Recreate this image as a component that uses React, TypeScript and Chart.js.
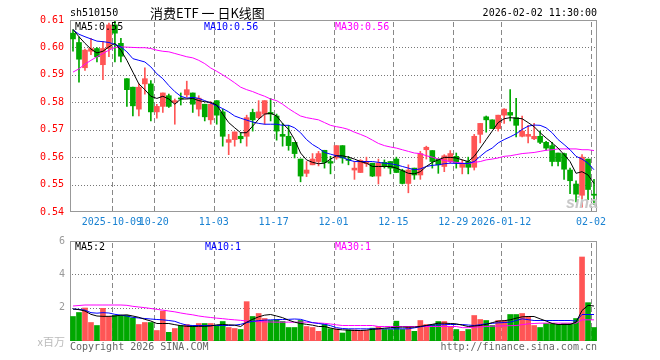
import React, { useEffect, useRef } from "react";
import { Chart, registerables } from "chart.js";
Chart.register(...registerables);

// ---------- DATA ----------
const dates = [
  "2025-09-22","2025-09-23","2025-09-24","2025-09-25","2025-09-26","2025-09-29","2025-09-30",
  "2025-10-09","2025-10-10","2025-10-13","2025-10-14","2025-10-15","2025-10-16","2025-10-17","2025-10-20","2025-10-21","2025-10-22","2025-10-23","2025-10-24","2025-10-27","2025-10-28","2025-10-29","2025-10-30","2025-10-31",
  "2025-11-03","2025-11-04","2025-11-05","2025-11-06","2025-11-07","2025-11-10","2025-11-11","2025-11-12","2025-11-13","2025-11-14","2025-11-17","2025-11-18","2025-11-19","2025-11-20","2025-11-21","2025-11-24","2025-11-25","2025-11-26","2025-11-27","2025-11-28",
  "2025-12-01","2025-12-02","2025-12-03","2025-12-04","2025-12-05","2025-12-08","2025-12-09","2025-12-10","2025-12-11","2025-12-12","2025-12-15","2025-12-16","2025-12-17","2025-12-18","2025-12-19","2025-12-22","2025-12-23","2025-12-24","2025-12-25","2025-12-26","2025-12-29","2025-12-30","2025-12-31",
  "2026-01-05","2026-01-06","2026-01-07","2026-01-08","2026-01-09","2026-01-12","2026-01-13","2026-01-14","2026-01-15","2026-01-16","2026-01-19","2026-01-20","2026-01-21","2026-01-22","2026-01-23","2026-01-26","2026-01-27","2026-01-28","2026-01-29","2026-01-30",
  "2026-02-02",
];

const axisDates = ["2025-10-09","2025-10-20","2025-11-03","2025-11-17","2025-12-01","2025-12-15","2025-12-29","2026-01-12","2026-02-02"];
const axisLabels = ["2025-10-09","10-20","11-03","11-17","12-01","12-15","12-29","2026-01-12","02-02"];

const openP = [0.6052,0.6018,0.5926,0.5986,0.5996,0.5937,0.5996,0.6082,0.6015,0.5886,0.5855,0.5775,0.5867,0.5867,0.5765,0.5785,0.5824,0.5800,0.5815,0.5827,0.5834,0.5775,0.5793,0.5736,0.5806,0.5765,0.5654,0.5664,0.5676,0.5676,0.5763,0.5744,0.5757,0.5763,0.5750,0.5683,0.5676,0.5654,0.5593,0.5541,0.5572,0.5584,0.5625,0.5584,0.5597,0.5642,0.5593,0.5553,0.5544,0.5576,0.5578,0.5531,0.5581,0.5584,0.5593,0.5551,0.5504,0.5560,0.5535,0.5627,0.5624,0.5593,0.5566,0.5584,0.5603,0.5563,0.5584,0.5563,0.5683,0.5747,0.5736,0.5704,0.5753,0.5763,0.5744,0.5676,0.5676,0.5667,0.5676,0.5654,0.5642,0.5615,0.5613,0.5553,0.5502,0.5461,0.5593,0.5465];
const highP = [0.6064,0.6039,0.5994,0.6033,0.5999,0.6021,0.6089,0.6095,0.6033,0.5886,0.5855,0.5867,0.5926,0.5879,0.5793,0.5834,0.5830,0.5812,0.5834,0.5877,0.5834,0.5824,0.5793,0.5802,0.5806,0.5775,0.5683,0.5692,0.5689,0.5753,0.5775,0.5806,0.5806,0.5814,0.5757,0.5723,0.5716,0.5654,0.5593,0.5584,0.5613,0.5621,0.5625,0.5603,0.5642,0.5642,0.5603,0.5584,0.5591,0.5600,0.5578,0.5593,0.5590,0.5584,0.5600,0.5556,0.5572,0.5560,0.5621,0.5640,0.5624,0.5593,0.5609,0.5624,0.5615,0.5590,0.5600,0.5683,0.5723,0.5750,0.5736,0.5753,0.5777,0.5846,0.5814,0.5750,0.5716,0.5723,0.5695,0.5658,0.5654,0.5615,0.5615,0.5560,0.5514,0.5609,0.5593,0.5519];
const lowP = [0.5986,0.5873,0.5916,0.5974,0.5947,0.5882,0.5966,0.5947,0.5947,0.5785,0.5750,0.5750,0.5830,0.5732,0.5742,0.5763,0.5781,0.5720,0.5790,0.5818,0.5763,0.5750,0.5732,0.5720,0.5720,0.5640,0.5609,0.5640,0.5652,0.5640,0.5695,0.5740,0.5720,0.5732,0.5662,0.5640,0.5625,0.5597,0.5510,0.5529,0.5572,0.5568,0.5560,0.5539,0.5592,0.5578,0.5572,0.5519,0.5544,0.5566,0.5529,0.5502,0.5560,0.5539,0.5544,0.5502,0.5470,0.5519,0.5519,0.5593,0.5560,0.5541,0.5547,0.5578,0.5560,0.5539,0.5539,0.5553,0.5652,0.5691,0.5704,0.5695,0.5723,0.5732,0.5674,0.5674,0.5652,0.5664,0.5649,0.5625,0.5568,0.5568,0.5519,0.5467,0.5437,0.5418,0.5445,0.5428];
const closeP = [0.6031,0.5957,0.5990,0.5996,0.5966,0.5996,0.6082,0.6052,0.5968,0.5846,0.5787,0.5855,0.5886,0.5765,0.5785,0.5834,0.5785,0.5806,0.5812,0.5846,0.5793,0.5815,0.5747,0.5793,0.5753,0.5676,0.5664,0.5692,0.5667,0.5744,0.5736,0.5765,0.5806,0.5757,0.5695,0.5676,0.5642,0.5613,0.5531,0.5553,0.5593,0.5613,0.5581,0.5578,0.5642,0.5597,0.5588,0.5560,0.5588,0.5584,0.5531,0.5578,0.5566,0.5560,0.5544,0.5504,0.5553,0.5535,0.5613,0.5636,0.5584,0.5572,0.5605,0.5613,0.5581,0.5576,0.5563,0.5676,0.5723,0.5736,0.5704,0.5753,0.5775,0.5753,0.5716,0.5695,0.5683,0.5676,0.5654,0.5633,0.5584,0.5584,0.5556,0.5514,0.5465,0.5600,0.5482,0.5461];

const ma5 = [0.6066,0.6039,0.6015,0.5994,0.5980,0.5986,0.6002,0.6015,0.5990,0.5953,0.5910,0.5867,0.5846,0.5822,0.5814,0.5822,0.5812,0.5793,0.5812,0.5812,0.5814,0.5806,0.5802,0.5800,0.5790,0.5757,0.5726,0.5707,0.5689,0.5689,0.5713,0.5738,0.5757,0.5760,0.5750,0.5723,0.5701,0.5664,0.5615,0.5590,0.5581,0.5576,0.5578,0.5593,0.5605,0.5605,0.5600,0.5593,0.5584,0.5578,0.5566,0.5566,0.5566,0.5566,0.5560,0.5551,0.5541,0.5539,0.5547,0.5566,0.5581,0.5590,0.5599,0.5599,0.5597,0.5590,0.5584,0.5603,0.5633,0.5664,0.5695,0.5726,0.5740,0.5744,0.5742,0.5740,0.5726,0.5711,0.5689,0.5670,0.5652,0.5633,0.5609,0.5584,0.5541,0.5547,0.5535,0.5504];
const ma10 = [0.6064,0.6048,0.6039,0.6031,0.6023,0.6021,0.6018,0.6011,0.6002,0.5984,0.5959,0.5953,0.5947,0.5929,0.5904,0.5886,0.5861,0.5839,0.5822,0.5815,0.5818,0.5814,0.5806,0.5797,0.5787,0.5777,0.5765,0.5750,0.5742,0.5735,0.5728,0.5723,0.5720,0.5720,0.5720,0.5716,0.5716,0.5707,0.5689,0.5664,0.5646,0.5633,0.5617,0.5611,0.5605,0.5599,0.5590,0.5584,0.5584,0.5584,0.5584,0.5581,0.5578,0.5576,0.5572,0.5566,0.5560,0.5554,0.5557,0.5566,0.5570,0.5572,0.5576,0.5578,0.5577,0.5577,0.5577,0.5584,0.5603,0.5621,0.5633,0.5652,0.5664,0.5674,0.5685,0.5701,0.5713,0.5717,0.5716,0.5707,0.5689,0.5664,0.5646,0.5627,0.5603,0.5593,0.5578,0.5554];
const ma30 = [0.5910,0.5922,0.5939,0.5953,0.5966,0.5978,0.5990,0.6000,0.6002,0.6001,0.6000,0.5999,0.5999,0.5996,0.5990,0.5986,0.5984,0.5978,0.5972,0.5966,0.5962,0.5953,0.5941,0.5925,0.5913,0.5900,0.5886,0.5871,0.5855,0.5846,0.5839,0.5830,0.5822,0.5812,0.5806,0.5793,0.5777,0.5763,0.5750,0.5744,0.5740,0.5736,0.5726,0.5716,0.5711,0.5707,0.5701,0.5691,0.5683,0.5674,0.5662,0.5650,0.5642,0.5637,0.5633,0.5627,0.5621,0.5615,0.5613,0.5605,0.5600,0.5593,0.5588,0.5584,0.5581,0.5578,0.5576,0.5581,0.5584,0.5590,0.5593,0.5597,0.5603,0.5605,0.5609,0.5613,0.5615,0.5617,0.5621,0.5625,0.5627,0.5630,0.5630,0.5630,0.5630,0.5627,0.5627,0.5624];

// volume in millions
const volume = [1.47,1.71,1.98,1.11,0.93,1.96,1.47,1.53,1.53,1.53,1.39,0.99,1.11,1.11,0.63,1.79,0.52,0.75,0.93,0.99,0.93,1.05,1.05,1.05,0.93,1.17,0.81,0.75,0.69,2.36,1.47,1.65,1.35,1.23,1.29,1.17,0.81,0.81,1.23,0.87,0.81,0.58,0.99,0.74,0.73,0.48,0.67,0.67,0.63,0.63,0.77,0.87,0.69,0.69,1.19,0.69,0.87,0.58,1.23,0.99,0.99,1.17,1.17,0.87,0.69,0.58,0.69,1.53,1.29,1.23,0.93,1.23,1.23,1.59,1.59,1.65,1.47,0.93,0.81,1.05,1.05,0.99,1.05,1.05,1.35,5.04,2.30,0.81];
const volMa5 = [1.92,1.88,1.8,1.6,1.5,1.48,1.48,1.5,1.55,1.57,1.5,1.42,1.3,1.2,1.05,1.05,1.05,0.98,0.92,0.88,0.87,0.88,0.88,0.9,0.97,0.99,0.97,0.95,0.87,1.13,1.3,1.45,1.55,1.59,1.5,1.4,1.25,1.13,1.05,1.0,0.95,0.87,0.87,0.78,0.7,0.67,0.65,0.63,0.63,0.65,0.7,0.73,0.77,0.8,0.83,0.83,0.83,0.83,0.88,0.93,1.0,1.07,1.07,1.05,1.03,0.95,0.87,0.9,0.93,1.0,1.1,1.19,1.22,1.27,1.37,1.45,1.47,1.47,1.33,1.2,1.05,0.99,0.99,0.99,1.13,1.83,2.14,2.1];
const volMa10 = [1.92,1.9,1.85,1.7,1.67,1.7,1.68,1.6,1.55,1.5,1.42,1.38,1.35,1.32,1.29,1.27,1.23,1.18,1.05,0.95,0.93,0.93,0.93,0.93,0.93,0.93,0.93,0.95,1.0,1.1,1.18,1.22,1.25,1.27,1.28,1.29,1.3,1.32,1.3,1.2,1.1,1.05,1.0,0.92,0.8,0.75,0.73,0.73,0.73,0.73,0.73,0.73,0.73,0.73,0.73,0.73,0.73,0.79,0.85,0.93,0.95,0.97,0.98,0.99,0.99,0.99,0.96,0.93,0.98,1.03,1.06,1.09,1.11,1.13,1.23,1.33,1.28,1.23,1.23,1.23,1.23,1.23,1.23,1.23,1.2,1.59,1.59,1.59];
const volMa30 = [2.1,2.13,2.16,2.16,2.16,2.16,2.16,2.16,2.16,2.14,2.08,2.04,2.0,1.95,1.9,1.85,1.8,1.75,1.68,1.62,1.57,1.5,1.45,1.41,1.37,1.34,1.3,1.27,1.24,1.2,1.18,1.16,1.15,1.14,1.13,1.13,1.13,1.13,1.13,1.13,1.1,1.08,1.06,1.02,0.97,0.93,0.93,0.93,0.93,0.93,0.93,0.87,0.87,0.87,0.87,0.87,0.87,0.87,0.87,0.87,0.87,0.87,0.87,0.87,0.87,0.8,0.8,0.83,0.85,0.87,0.89,0.9,0.91,0.92,0.93,0.98,1.03,1.05,1.07,1.07,1.07,1.07,1.07,1.07,1.07,1.27,1.27,1.27];

const priceTicks = [0.54, 0.55, 0.56, 0.57, 0.58, 0.59, 0.60, 0.61];
const volTicks = [0, 2, 4, 6];

// ---------- STYLE ----------
const UP = "#ff5555";
const DOWN = "#00a800";
const MONO = '"DejaVu Sans Mono", "Liberation Mono", monospace';
const CJK = '"Noto Sans CJK SC", sans-serif';
const HGRID = "#777777";
const VGRID = "#888888";

const labelIndex: Record<number, string> = {};
axisDates.forEach((d, k) => { labelIndex[dates.indexOf(d)] = axisLabels[k]; });
const gridIdx = Object.keys(labelIndex).map(Number);

const candleColors = dates.map((_, i) => (closeP[i] >= openP[i] ? UP : DOWN));

const gridPlugin = {
  id: "sinaGrid",
  beforeDatasetsDraw(chart: any) {
    const ctx = chart.ctx;
    const a = chart.chartArea;
    const xs = chart.scales.x;
    const ys = chart.scales.y;
    const L = Math.round(a.left), R = Math.round(a.right), T = Math.round(a.top), B = Math.round(a.bottom);
    ctx.save();
    ctx.fillStyle = HGRID;
    const yTicks: number[] = ys.ticks.map((t: any) => t.value);
    yTicks.forEach((v) => {
      const y = Math.round(ys.getPixelForValue(v));
      if (y > T + 1 && y < B - 1) {
        for (let x = L + 2; x < R - 1; x += 3) ctx.fillRect(x, y, 1, 1);
      }
    });
    ctx.fillStyle = VGRID;
    const slot = (R - L) / dates.length;
    gridIdx.forEach((i) => {
      const x = Math.round(xs.getPixelForValue(i) - slot / 2);
      for (let y = T + 2; y < B - 1; y += 8) ctx.fillRect(x, y, 1, Math.min(5, B - 1 - y));
    });
    ctx.fillStyle = "#999999";
    ctx.fillRect(L, T, R - L, 1);
    ctx.fillRect(L, B - 1, R - L, 1);
    ctx.fillRect(L, T, 1, B - T);
    ctx.fillRect(R - 1, T, 1, B - T);
    ctx.restore();
  },
};

function lineDs(data: number[], color: string) {
  return { type: "line", data, borderColor: color, borderWidth: 1, pointRadius: 0, tension: 0, order: 0 };
}

function priceConfig(): any {
  return {
    type: "bar",
    data: {
      labels: dates,
      datasets: [
        lineDs(ma5, "#000000"),
        lineDs(ma10, "#0000ff"),
        lineDs(ma30, "#ff00ff"),
        { type: "bar", data: dates.map((_, i) => [lowP[i], highP[i]]), backgroundColor: candleColors, barThickness: 1, grouped: false, order: 2 },
        { type: "bar", data: dates.map((_, i) => [openP[i], closeP[i]]), backgroundColor: candleColors, barThickness: 5, minBarLength: 1, grouped: false, order: 1 },
      ],
    },
    options: {
      animation: false,
      responsive: false,
      devicePixelRatio: 1,
      layout: { padding: { left: 0, right: 63, top: 20, bottom: 0 } },
      plugins: { legend: { display: false }, tooltip: { enabled: false } },
      scales: {
        x: {
          type: "category",
          offset: true,
          grid: { display: false, drawTicks: false },
          border: { display: false },
          ticks: {
            autoSkip: false, maxRotation: 0, minRotation: 0, padding: 4, labelOffset: -3,
            color: "#1a82d2", font: { family: MONO, size: 10 },
            callback: (_v: any, i: number) => labelIndex[i] ?? "",
          },
          afterFit: (s: any) => { s.height = 23; },
        },
        y: {
          min: priceTicks[0], max: priceTicks[priceTicks.length - 1],
          afterBuildTicks: (s: any) => { s.ticks = priceTicks.map((v) => ({ value: v })); },
          grid: { display: false, drawTicks: false },
          border: { display: false },
          ticks: { color: "#ff0000", padding: 6, font: { family: MONO, size: 10 }, callback: (v: number) => v.toFixed(2) },
          afterFit: (s: any) => { s.width = 70; },
        },
      },
    },
    plugins: [gridPlugin],
  };
}

function volConfig(): any {
  return {
    type: "bar",
    data: {
      labels: dates,
      datasets: [
        lineDs(volMa5, "#000000"),
        lineDs(volMa10, "#0000ff"),
        lineDs(volMa30, "#ff00ff"),
        { type: "bar", data: volume, backgroundColor: candleColors, barThickness: 5, grouped: false, order: 1 },
      ],
    },
    options: {
      animation: false,
      responsive: false,
      devicePixelRatio: 1,
      layout: { padding: { left: 0, right: 63, top: 10, bottom: 19 } },
      plugins: { legend: { display: false }, tooltip: { enabled: false } },
      scales: {
        x: {
          type: "category",
          offset: true,
          grid: { display: false, drawTicks: false },
          border: { display: false },
          ticks: { display: false, autoSkip: false },
          afterFit: (s: any) => { s.height = 0; },
        },
        y: {
          min: volTicks[0], max: volTicks[volTicks.length - 1],
          afterBuildTicks: (s: any) => { s.ticks = volTicks.map((v) => ({ value: v })); },
          grid: { display: false, drawTicks: false },
          border: { display: false },
          ticks: { color: "#999999", padding: 5, font: { family: MONO, size: 10 }, callback: (v: number) => (v === 0 ? "" : String(v)) },
          afterFit: (s: any) => { s.width = 70; },
        },
      },
    },
    plugins: [gridPlugin],
  };
}

function Txt(props: { x: number; y: number; align?: "left" | "right"; color?: string; size?: number; family?: string; style?: any; children: any }) {
  const { x, y, align = "left", color = "#000", size = 10, family = MONO, style = {}, children } = props;
  const h = Math.round(size * 1.3);
  const pos: any = align === "left" ? { left: x } : { right: 660 - x };
  return (
    <div style={{ position: "absolute", top: y - h / 2, height: h, lineHeight: h + "px", whiteSpace: "pre", fontFamily: family, fontSize: size, color, ...pos, ...style }}>
      {children}
    </div>
  );
}

export default function App() {
  const priceRef = useRef<HTMLCanvasElement>(null);
  const volRef = useRef<HTMLCanvasElement>(null);
  useEffect(() => {
    const c1 = new Chart(priceRef.current as HTMLCanvasElement, priceConfig());
    const c2 = new Chart(volRef.current as HTMLCanvasElement, volConfig());
    return () => { c1.destroy(); c2.destroy(); };
  }, []);
  return (
    <div style={{ position: "fixed", left: 0, top: 0, width: 660, height: 360, background: "#fff", overflow: "hidden" }}>
      <canvas ref={priceRef} width={660} height={235} style={{ position: "absolute", left: 0, top: 0, width: 660, height: 235 }} />
      <canvas ref={volRef} width={660} height={130} style={{ position: "absolute", left: 0, top: 230, width: 660, height: 130 }} />
      <Txt x={70} y={12.5}>sh510150</Txt>
      <Txt x={150} y={12.5} size={13} family={CJK}>{"消费ETF 一 日K线图"}</Txt>
      <Txt x={597} y={12.5} align="right">2026-02-02 11:30:00</Txt>
      <Txt x={75} y={26}>MA5:0.55</Txt>
      <Txt x={204} y={26} color="#0000ff">MA10:0.56</Txt>
      <Txt x={335} y={26} color="#ff00ff">MA30:0.56</Txt>
      <Txt x={75} y={246}>MA5:2</Txt>
      <Txt x={205} y={246} color="#0000ff">MA10:1</Txt>
      <Txt x={335} y={246} color="#ff00ff">MA30:1</Txt>
      <Txt x={65} y={340.5} align="right" size={11} family={CJK} color="#bbbbbb">x百万</Txt>
      <Txt x={70} y={346} color="#666666">Copyright 2026 SINA.COM</Txt>
      <Txt x={597} y={346} align="right" color="#666666">http://finance.sina.com.cn</Txt>
      <Txt x={566} y={202} size={16} family='"Liberation Sans", sans-serif' color="#c8c8c8" style={{ fontStyle: "italic", fontWeight: "bold" }}>sina</Txt>
    </div>
  );
}
